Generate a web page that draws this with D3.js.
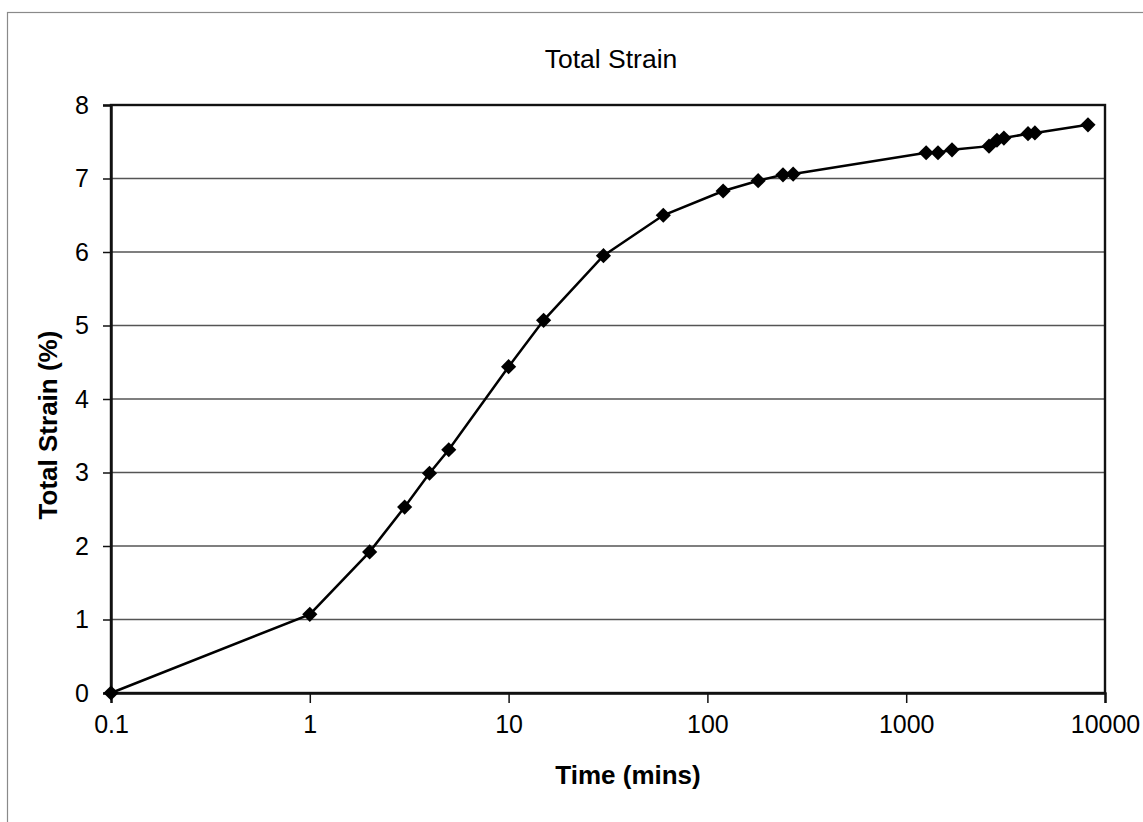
<!DOCTYPE html>
<html>
<head>
<meta charset="utf-8">
<script src="https://cdn.jsdelivr.net/npm/d3@7"></script>
<style>
  body { margin: 0; background: #fff; }
  text { font-family: "Liberation Sans", Arial, sans-serif; fill: #000; }
</style>
</head>
<body>
<svg width="1143" height="822"></svg>
<script>
var times = [0.1, 1, 2, 3, 4, 5, 10, 15, 30, 60, 120, 180, 240, 270,
  1260, 1445, 1700, 2610, 2860, 3100, 4100, 4440, 8210];
var strain = [0, 1.07, 1.92, 2.53, 2.99, 3.31, 4.44, 5.07, 5.95, 6.50, 6.83, 6.97, 7.05, 7.06,
  7.35, 7.35, 7.39, 7.44, 7.52, 7.55, 7.61, 7.62, 7.73];
var xTicks = [0.1, 1, 10, 100, 1000, 10000];
var yTicks = [0, 1, 2, 3, 4, 5, 6, 7, 8];

var data = times.map(function(t, i) { return {t: t, s: strain[i]}; });

var svg = d3.select("svg");
var plotL = 111, plotR = 1105, plotT = 105, plotB = 693;

// outer chart border (only left/top show in the frame)
svg.append("rect")
  .attr("x", 7.5).attr("y", 12.5)
  .attr("width", 1200).attr("height", 900)
  .attr("fill", "none").attr("stroke", "#8a8a8a").attr("stroke-width", 1.2);

var x = d3.scaleLog().domain([0.1, 10000]).range([plotL, plotR]);
var y = d3.scaleLinear().domain([0, 8]).range([plotB, plotT]);

// gridlines
svg.append("g")
  .selectAll("line")
  .data(yTicks.slice(1, -1))
  .enter().append("line")
  .attr("x1", plotL).attr("x2", plotR)
  .attr("y1", function(d) { return y(d); })
  .attr("y2", function(d) { return y(d); })
  .attr("stroke", "#555").attr("stroke-width", 1.6);

// plot frame
svg.append("rect")
  .attr("x", plotL).attr("y", plotT)
  .attr("width", plotR - plotL).attr("height", plotB - plotT)
  .attr("fill", "none").attr("stroke", "#111").attr("stroke-width", 2.4);

var xAxis = d3.axisBottom(x)
  .tickValues(xTicks)
  .tickFormat(function(d) { return d < 1 ? "0.1" : d3.format("d")(d); })
  .tickSize(10).tickPadding(12);

var yAxis = d3.axisLeft(y)
  .tickValues(yTicks)
  .tickFormat(d3.format("d"))
  .tickSize(8).tickPadding(14);

var gx = svg.append("g")
  .attr("transform", "translate(0," + plotB + ")")
  .call(xAxis);
var gy = svg.append("g")
  .attr("transform", "translate(" + plotL + ",0)")
  .call(yAxis);

[gx, gy].forEach(function(g) {
  g.select(".domain").attr("stroke", "#111").attr("stroke-width", 2.4);
  g.selectAll(".tick line").attr("stroke", "#111").attr("stroke-width", 1.5);
  g.selectAll(".tick text")
    .attr("font-size", 25)
    .attr("font-family", "Liberation Sans, Arial, sans-serif")
    .attr("fill", "#000");
});

// the line
var line = d3.line()
  .x(function(d) { return x(d.t); })
  .y(function(d) { return y(d.s); });

svg.append("path")
  .datum(data)
  .attr("d", line)
  .attr("fill", "none")
  .attr("stroke", "#000")
  .attr("stroke-width", 2.5);

// diamond markers
var diamond = d3.symbol().type(d3.symbolSquare).size(115);
svg.append("g")
  .selectAll("path")
  .data(data)
  .enter().append("path")
  .attr("d", diamond)
  .attr("transform", function(d) {
    return "translate(" + x(d.t) + "," + y(d.s) + ") rotate(45)";
  })
  .attr("fill", "#000");

// titles
svg.append("text")
  .attr("x", 611).attr("y", 68)
  .attr("text-anchor", "middle")
  .attr("font-size", 26.5)
  .text("Total Strain");

svg.append("text")
  .attr("x", 628).attr("y", 784)
  .attr("text-anchor", "middle")
  .attr("font-size", 26)
  .attr("font-weight", "bold")
  .text("Time (mins)");

svg.append("text")
  .attr("transform", "translate(57,425) rotate(-90)")
  .attr("text-anchor", "middle")
  .attr("font-size", 26)
  .attr("font-weight", "bold")
  .text("Total Strain (%)");
</script>
</body>
</html>
